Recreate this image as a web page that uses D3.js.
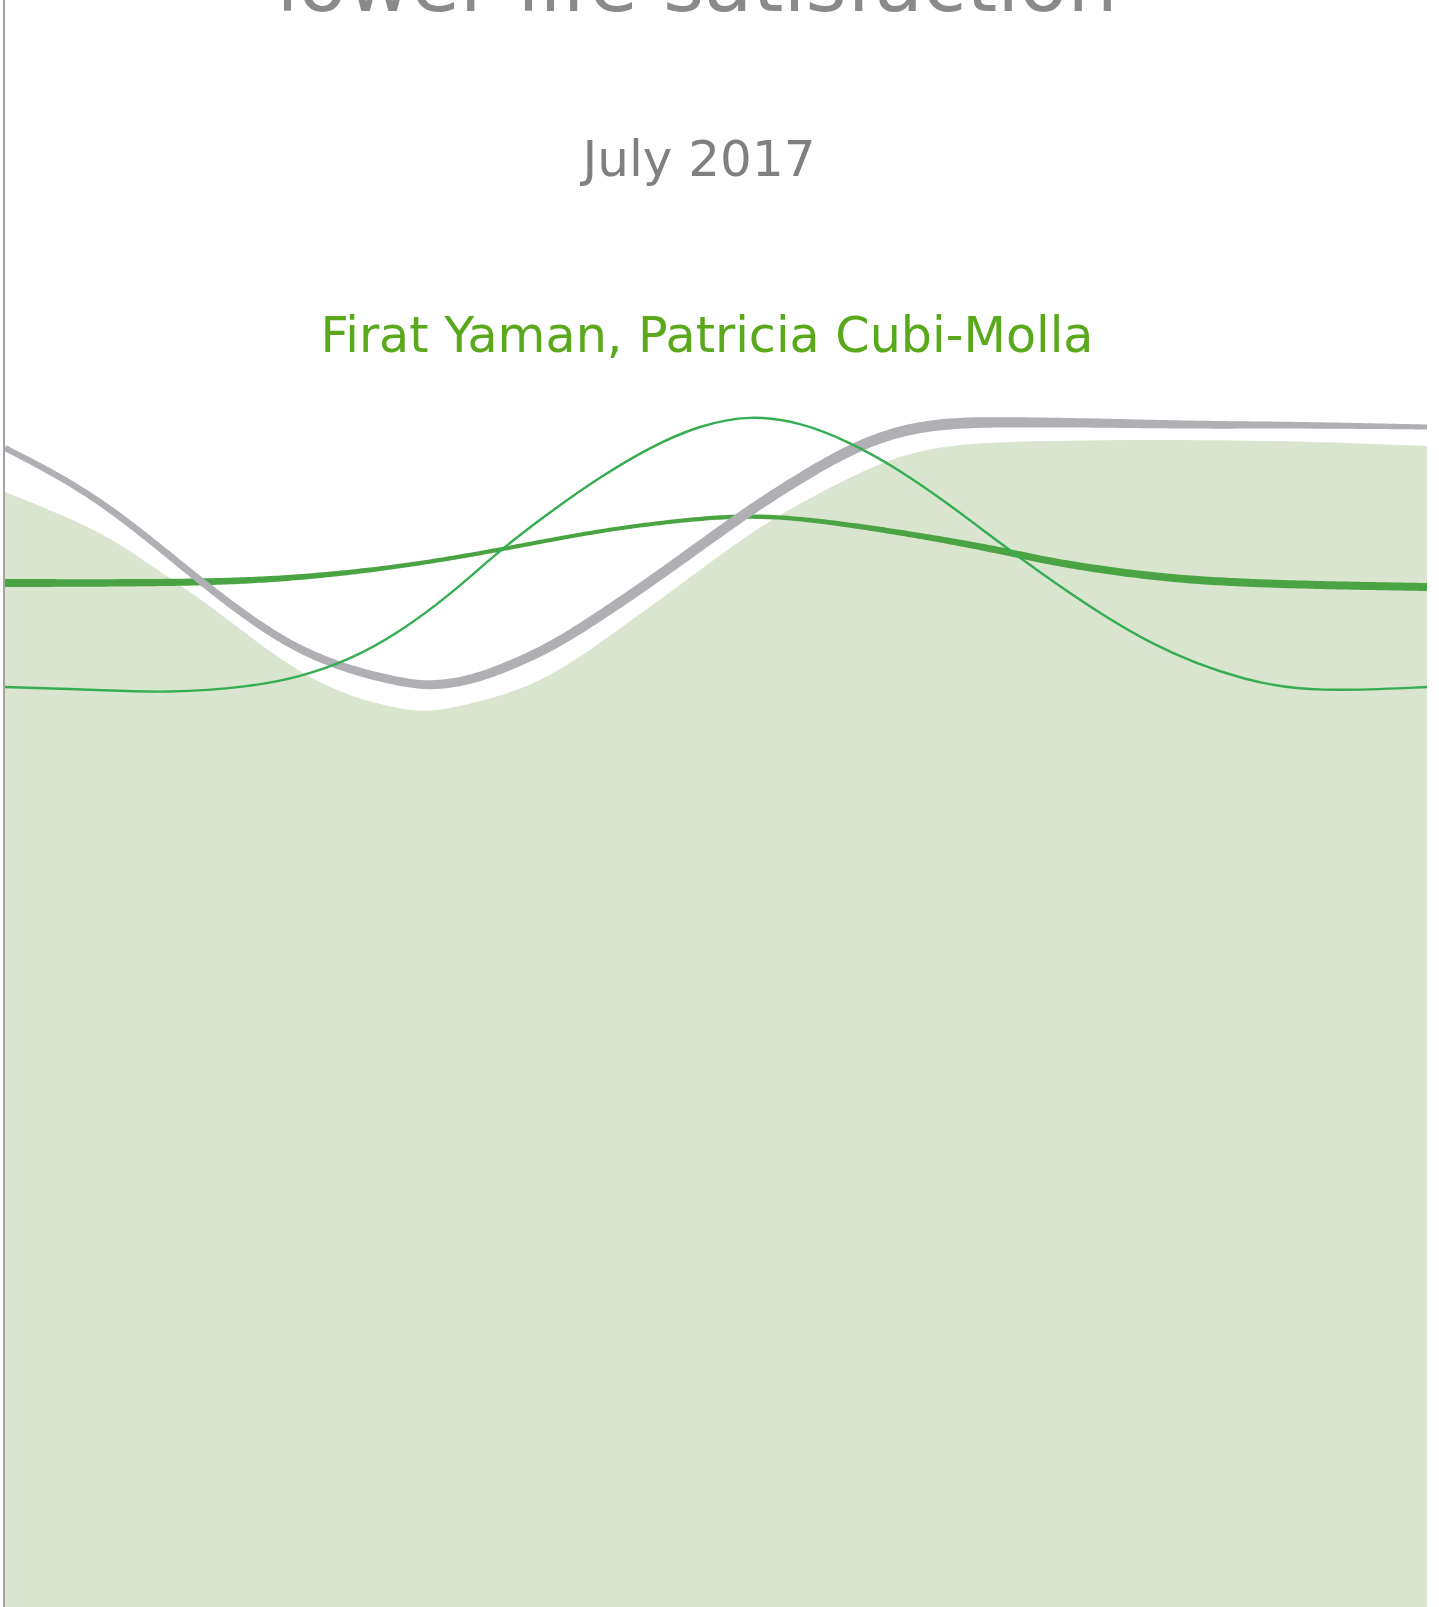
<!DOCTYPE html>
<html>
<head>
<meta charset="utf-8">
<script src="https://cdn.jsdelivr.net/npm/d3@7"></script>
<style>
  body { margin: 0; background: #fff; overflow: hidden; }
  svg { display: block; }
</style>
</head>
<body>
<div class="js-cover"></div>
<script>
// x = distance from the left rule, y = level (higher is further up the page)
let fillXs =    [0, 95, 145, 195, 245, 295, 345, 395, 428, 495, 545, 595, 645, 695, 745, 795, 845, 895, 945, 995, 1095, 1195, 1295, 1422];
let fillSeries = [111.5, 107.7, 104.2, 100.9, 97.0, 93.4, 91.0, 89.8, 89.4, 91.0, 93.0, 96.4, 100.0, 103.7, 107.4, 110.4, 113.0, 115.2, 116.2, 116.5, 116.7, 116.7, 116.6, 116.1];

let greyXs =    [0, 95, 195, 295, 395, 428, 462, 495, 545, 595, 645, 695, 745, 795, 845, 895, 945, 995, 1095, 1195, 1295, 1422];
let greySeries = [115.9, 111.0, 102.5, 95.0, 92.4, 92.1, 92.6, 93.7, 95.9, 99.1, 102.5, 106.1, 109.7, 112.9, 115.8, 117.7, 118.4, 118.5, 118.4, 118.2, 118.2, 118.0];

let thinXs =    [0, 95, 162, 245, 295, 345, 395, 445, 495, 545, 595, 645, 695, 745, 795, 845, 895, 945, 995, 1045, 1145, 1245, 1312, 1422];
let thinSeries = [92.0, 91.7, 91.4, 92.0, 93.0, 94.7, 97.5, 101.2, 105.7, 109.5, 113.0, 116.0, 118.2, 119.2, 118.5, 116.5, 113.7, 110.2, 106.4, 102.7, 96.0, 92.4, 91.5, 92.0];

let thickXs =   [0, 195, 295, 395, 495, 595, 695, 745, 795, 895, 995, 1045, 1145, 1245, 1422];
let thickSeries = [102.4, 102.4, 102.9, 104.0, 105.7, 107.7, 108.9, 109.1, 108.9, 107.5, 105.7, 104.5, 103.0, 102.3, 102.0];

let headLines = ["lower life satisfaction", "July 2017", "Firat Yaman, Patricia Cubi-Molla"];

let width = 1439, height = 1607;

let x = d3.scaleLinear().domain([0, 1422]).range([5, 1427]);
let y = d3.scaleLinear().domain([0, 160.7]).range([height, 0]);

let svg = d3.select(".js-cover").append("svg")
    .attr("width", width)
    .attr("height", height);

let curve = d3.curveBasis;
let pts = (xs, ys) => xs.map((d, i) => ({x: d, y: ys[i]}));

let area = d3.area()
    .curve(curve)
    .x(d => x(d.x))
    .y0(height)
    .y1(d => y(d.y));

svg.append("path")
    .datum(pts(fillXs, fillSeries))
    .attr("fill", "#dae5cf")
    .attr("d", area);

let line = d3.line()
    .curve(curve)
    .x(d => x(d.x))
    .y(d => y(d.y));

// stroke whose width changes along x: sample the curve and offset along normals
function tapered(data, widthAt, color) {
    let guide = svg.append("path").attr("d", line(data)).attr("fill", "none");
    let node = guide.node(), len = node.getTotalLength();
    let n = 400, samples = d3.range(n + 1).map(i => node.getPointAtLength(len * i / n));
    guide.remove();
    let left = [], right = [];
    samples.forEach((p, i) => {
        let a = samples[Math.max(0, i - 1)], b = samples[Math.min(n, i + 1)];
        let dx = b.x - a.x, dy = b.y - a.y, l = Math.hypot(dx, dy) || 1;
        let w = widthAt(p.x) / 2;
        left.push([p.x - dy / l * w, p.y + dx / l * w]);
        right.push([p.x + dy / l * w, p.y - dx / l * w]);
    });
    svg.append("path")
        .attr("fill", color)
        .attr("d", d3.line()(left.concat(right.reverse())) + "Z");
}

tapered(pts(thickXs, thickSeries),
    d3.scaleLinear().domain([5, 200, 400, 600, 800, 1000, 1200, 1427]).range([8, 7, 4.5, 4, 4.5, 7, 8, 8]).clamp(true),
    "#4ba443");

tapered(pts(greyXs, greySeries),
    d3.scaleLinear().domain([5, 300, 600, 950, 1427]).range([6, 8, 10, 11, 5]).clamp(true),
    "#b0b0b4");

svg.append("path")
    .datum(pts(thinXs, thinSeries))
    .attr("fill", "none")
    .attr("stroke", "#35ad52")
    .attr("stroke-width", 2.4)
    .attr("d", line);

// left rule
svg.append("line")
    .attr("x1", 4).attr("x2", 4)
    .attr("y1", 0).attr("y2", height)
    .attr("stroke", "#a3a3a3")
    .attr("stroke-width", 2);

let text = svg.append("g")
    .attr("font-family", "'DejaVu Sans', Verdana, sans-serif")
    .attr("text-anchor", "middle");

text.append("text")
    .attr("x", 697).attr("y", 11)
    .attr("font-size", 79)
    .attr("fill", "#8a8a8a")
    .text(headLines[0]);

text.append("text")
    .attr("x", 699).attr("y", 176)
    .attr("font-size", 50)
    .attr("fill", "#808080")
    .text(headLines[1]);

text.append("text")
    .attr("x", 707).attr("y", 352)
    .attr("font-size", 49.2)
    .attr("fill", "#5aa91d")
    .text(headLines[2]);
</script>
</body>
</html>
